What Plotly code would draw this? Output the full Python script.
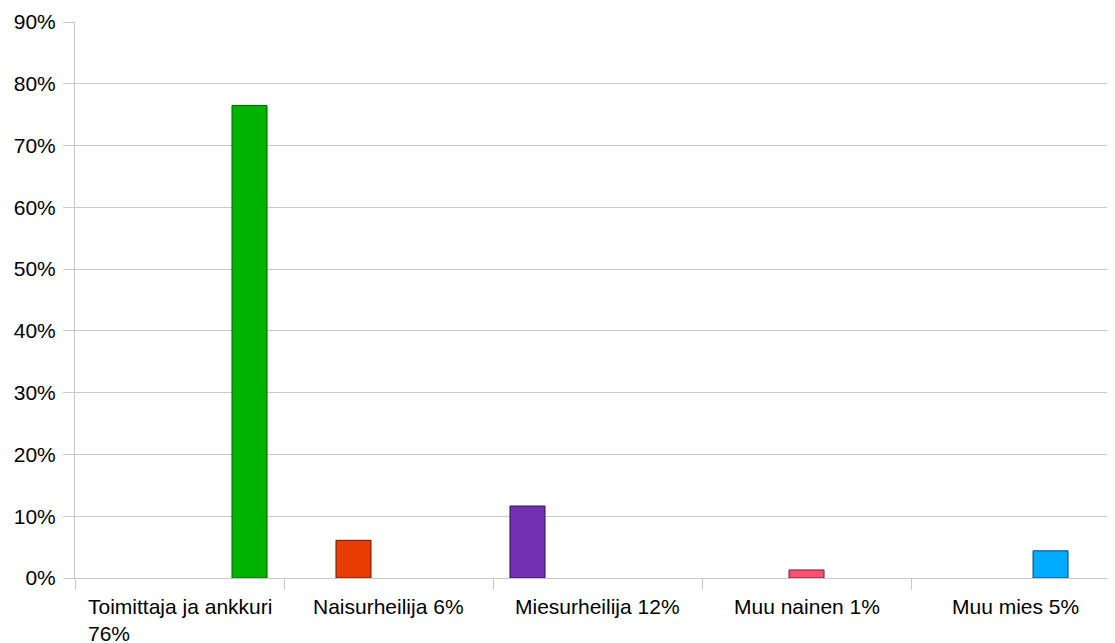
import plotly.graph_objects as go

categories = ["Toimittaja ja ankkuri 76%", "Naisurheilija 6%", "Miesurheilija 12%",
              "Muu nainen 1%", "Muu mies 5%"]
labels = ["Toimittaja ja ankkuri<br>76%", "Naisurheilija 6%", "Miesurheilija 12%",
          "Muu nainen 1%", "Muu mies 5%"]
values = [76.5, 6.1, 11.65, 1.3, 4.4]
colors = ["#00b300", "#e83c05", "#7230b3", "#ff4f73", "#00aaff"]
edges = ["#005a00", "#5a1800", "#2e1050", "#6a1e30", "#004a70"]
# order in which the series sit inside each group
series_order = [2, 1, 3, 4, 0]

yticks = [0, 10, 20, 30, 40, 50, 60, 70, 80, 90]

FONT = dict(family="Liberation Sans, Arial", size=21, color="#000")

fig = go.Figure()
for idx in series_order:
    yv = [values[idx] if j == idx else None for j in range(len(categories))]
    fig.add_trace(go.Bar(
        x=categories, y=yv, name=categories[idx],
        marker=dict(color=colors[idx], line=dict(color=edges[idx], width=1)),
        showlegend=False,
    ))

for cat, lab in zip(categories, labels):
    fig.add_annotation(x=cat, y=0, xref="x", yref="paper", text=lab,
                       showarrow=False, xanchor="center", yanchor="top",
                       align="left", yshift=-15, font=FONT)

# page body adds an 8px offset; figure sized to fill the rest of the window
fig.update_layout(
    width=1107, height=635,
    margin=dict(l=67, r=0, t=14, b=65),
    barmode="group", bargap=0.1625, bargroupgap=0,
    plot_bgcolor="white", paper_bgcolor="white",
    font=FONT,
)
fig.update_xaxes(type="category", range=[-0.5, 4.476], showticklabels=False,
                 ticks="outside", tickson="boundaries", ticklen=11,
                 tickcolor="#c8c8c8", showline=True, linecolor="#c8c8c8",
                 showgrid=False, zeroline=False, automargin=False)
fig.update_yaxes(range=[0, 90], tickvals=yticks, ticktext=[f"{v}%" for v in yticks],
                 ticks="outside", ticklen=11, tickcolor="#c8c8c8",
                 showline=True, linecolor="#c8c8c8", gridcolor="#c8c8c8",
                 zeroline=False, ticklabelstandoff=3, automargin=False)

fig.write_html("out.html")
